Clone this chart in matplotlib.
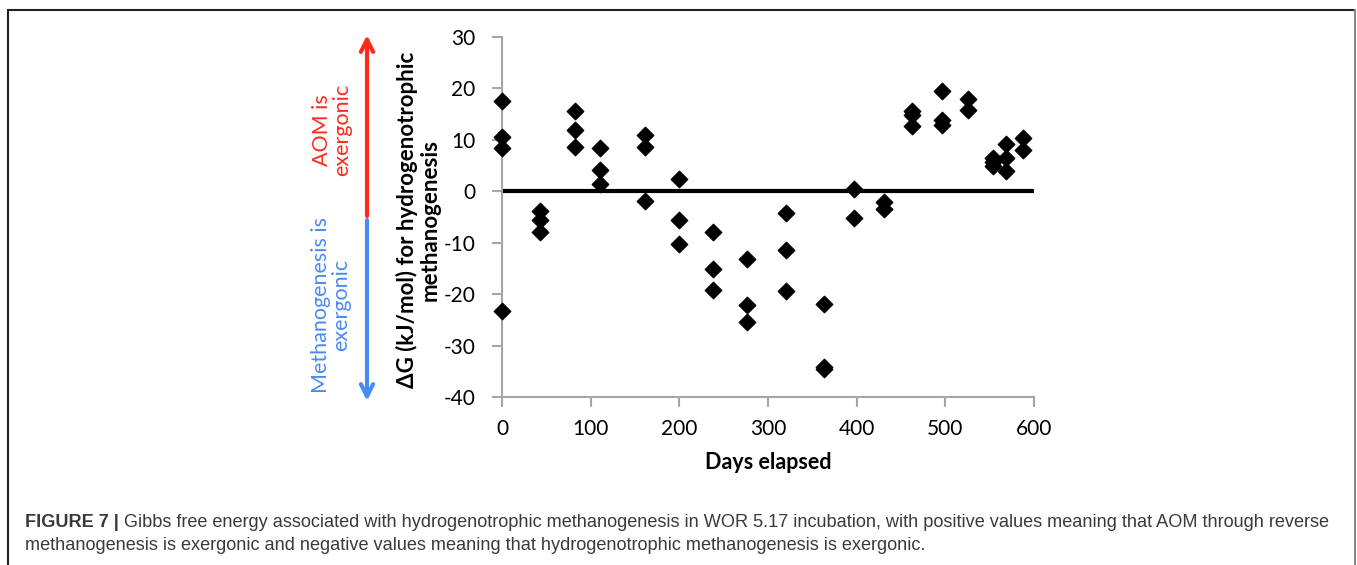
import matplotlib
matplotlib.use("Agg")
import matplotlib.pyplot as plt
from matplotlib import font_manager

plt.rcParams['axes.unicode_minus'] = False

# ---- data ----
days = [0, 0, 0, 0,
        43, 43, 43,
        82, 82, 82,
        111, 111, 111,
        161, 161, 161,
        200, 200, 200,
        238, 238, 238,
        276, 276, 276,
        320, 320, 320,
        363, 363, 363,
        397, 397,
        431, 431,
        462, 462, 462,
        496, 496, 496,
        525, 525,
        554, 554, 554,
        568, 568, 568,
        588, 588]
delta_g = [17.5, 10.5, 8.4, -23.2,
           -3.9, -5.5, -7.9,
           15.6, 12.0, 8.7,
           8.4, 4.2, 1.4,
           11.0, 8.7, -1.8,
           2.4, -5.5, -10.2,
           -7.9, -15.2, -19.1,
           -13.2, -22.2, -25.5,
           -4.3, -11.4, -19.4,
           -22.0, -34.2, -34.6,
           0.4, -5.1,
           -2.1, -3.5,
           15.7, 14.8, 12.6,
           19.5, 13.8, 12.8,
           18.0, 15.9,
           6.5, 5.7, 4.9,
           9.1, 6.5, 4.0,
           10.4, 8.1]
x_ticks = [0, 100, 200, 300, 400, 500, 600]
y_ticks = [-40, -30, -20, -10, 0, 10, 20, 30]

W, H = 1357, 565
fig = plt.figure(figsize=(W / 100, H / 100), dpi=100)

def fx(px):
    return px / W

def fy(py):
    return 1 - py / H

installed = {f.name for f in font_manager.fontManager.ttflist}
main_font = ['Lato', 'DejaVu Sans'] if 'Lato' in installed else ['DejaVu Sans']
cap_font = (['Liberation Sans Narrow', 'Liberation Sans', 'DejaVu Sans']
            if 'Liberation Sans Narrow' in installed else ['Liberation Sans', 'DejaVu Sans'])

ax = fig.add_axes([fx(502), fy(397), fx(1034) - fx(502), fy(37) - fy(397)])
ax.scatter(days, delta_g, marker='D', s=70, color='black', zorder=3, clip_on=False)
ax.axhline(0, color='black', lw=3, zorder=2)
ax.set_xlim(0, 600)
ax.set_ylim(-40, 30)
ax.set_xticks(x_ticks)
ax.set_yticks(y_ticks)
for s in ['top', 'right']:
    ax.spines[s].set_visible(False)
for s in ['left', 'bottom']:
    ax.spines[s].set_color('#a6a6a6')
    ax.spines[s].set_linewidth(1.5)
ax.tick_params(direction='out', length=7, width=1.5, color='#a6a6a6',
               labelsize=15)
ax.tick_params(axis='y', pad=12)
ax.tick_params(axis='x', pad=9)
for lab in ax.get_xticklabels() + ax.get_yticklabels():
    lab.set_family(main_font)
ax.set_xlabel('Days elapsed', fontsize=15.5, fontweight='bold', family=main_font, labelpad=9)

# y label
fig.text(fx(418), fy(220), 'ΔG (kJ/mol) for hydrogenotrophic\nmethanogenesis',
         rotation=90, ha='center', va='center', multialignment='center',
         fontsize=16, fontweight='bold', family=main_font, linespacing=1.1)

# overlay in pixel coordinates
red = '#ff2a1a'
blue = '#4a8af4'
ov = fig.add_axes([0, 0, 1, 1], facecolor='none')
ov.set_xlim(0, W)
ov.set_ylim(H, 0)
ov.axis('off')
ov.annotate('', xy=(367, 35), xytext=(367, 216),
            arrowprops=dict(arrowstyle='->', color=red, lw=3,
                            mutation_scale=22, shrinkA=0, shrinkB=0))
ov.annotate('', xy=(367, 401), xytext=(367, 220),
            arrowprops=dict(arrowstyle='->', color=blue, lw=3,
                            mutation_scale=22, shrinkA=0, shrinkB=0))
ov.text(332, 130, 'AOM is\nexergonic', rotation=90, ha='center', va='center',
        multialignment='center', fontsize=15.5, color=red, family=main_font,
        linespacing=1.0)
ov.text(331, 305, 'Methanogenesis is\nexergonic', rotation=90, ha='center',
        va='center', multialignment='center', fontsize=15.5, color=blue,
        family=main_font, linespacing=1.0)

# frame
ov.plot([8, 1355], [10, 10], color='#222222', lw=1.5, solid_capstyle='butt')
ov.plot([8, 8], [10, H], color='#222222', lw=1.5)
ov.plot([1355, 1355], [10, H], color='#888888', lw=1.5)

# caption
cap_color = '#3a3a3a'
cap_size = 13.1
t1 = ov.text(25, 527, 'FIGURE 7 | ', fontsize=cap_size, fontweight='bold',
             color=cap_color, family=cap_font, va='baseline', ha='left')
fig.canvas.draw()
r = fig.canvas.get_renderer()
bb = t1.get_window_extent(r)
x2 = bb.x1
ov.text(x2, 527,
        'Gibbs free energy associated with hydrogenotrophic methanogenesis in WOR 5.17 '
        'incubation, with positive values meaning that AOM through reverse',
        fontsize=cap_size, color=cap_color, family=cap_font, va='baseline', ha='left')
ov.text(25, 550,
        'methanogenesis is exergonic and negative values meaning that '
        'hydrogenotrophic methanogenesis is exergonic.',
        fontsize=cap_size, color=cap_color, family=cap_font, va='baseline', ha='left')

fig.savefig('out.png', dpi=100)
